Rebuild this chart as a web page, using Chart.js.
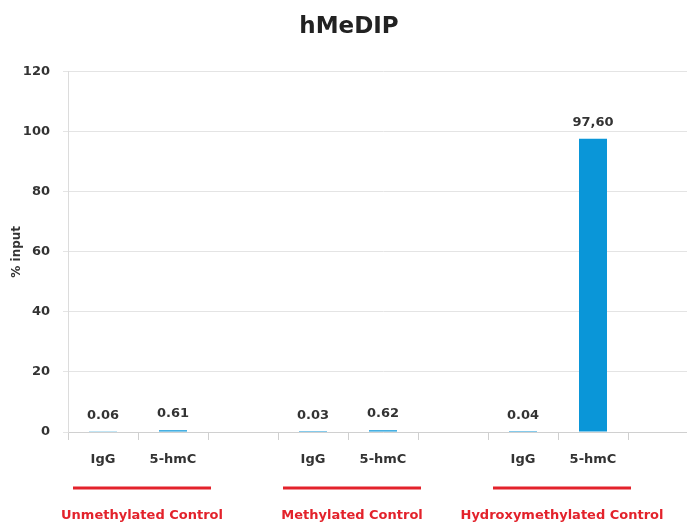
<!DOCTYPE html>
<html>
<head>
<meta charset="utf-8">
<script src="https://cdn.jsdelivr.net/npm/chart.js@4.4.0/dist/chart.umd.min.js"></script>
<style>
  html, body { margin: 0; padding: 0; background: #fff; overflow: hidden; }
  #wrap { width: 700px; height: 523px; position: relative; }
</style>
</head>
<body>
<div id="wrap"><canvas id="hmedip-chart"></canvas></div>
<script>
  // Samples per category slot (empty slots keep the groups apart)
  const categories = ['IgG', '5-hmC', '', 'IgG', '5-hmC', '', 'IgG', '5-hmC', ''];
  const percentInput = [0.06, 0.61, null, 0.03, 0.62, null, 0.04, 97.60, null];
  const decimalMarks = ['.', '.', '.', '.', '.', '.', '.', ',', '.'];
  const groupNames = ['Unmethylated Control', 'Methylated Control', 'Hydroxymethylated Control'];
  const groupStart = [0, 3, 6];
  const yTicks = [0, 20, 40, 60, 80, 100, 120];

  const FONT = "'DejaVu Sans', sans-serif";
  const TEXT = '#333333';
  const RED = '#e3222b';

  // value text above each bar
  const valueLabels = {
    id: 'valueLabels',
    afterDatasetsDraw(chart) {
      const ctx = chart.ctx;
      const meta = chart.getDatasetMeta(0);
      ctx.save();
      ctx.font = 'bold 13px ' + FONT;
      ctx.fillStyle = TEXT;
      ctx.textAlign = 'center';
      ctx.textBaseline = 'bottom';
      meta.data.forEach((bar, i) => {
        const v = percentInput[i];
        if (v == null) return;
        const txt = v.toFixed(2).replace('.', decimalMarks[i]);
        ctx.fillText(txt, bar.x, bar.y - 10);
      });
      ctx.restore();
    }
  };

  // red underline + name under each sample group
  const groupLabels = {
    id: 'groupLabels',
    afterDraw(chart) {
      const ctx = chart.ctx;
      const x = chart.scales.x;
      ctx.save();
      groupNames.forEach((name, g) => {
        const s = groupStart[g];
        const step = x.getPixelForValue(s + 1) - x.getPixelForValue(s);
        const left = x.getPixelForValue(s) - step / 2;
        const right = x.getPixelForValue(s + 1) + step / 2;
        ctx.strokeStyle = RED;
        ctx.lineWidth = 3;
        ctx.beginPath();
        ctx.moveTo(left + 5, 488);
        ctx.lineTo(right + 3, 488);
        ctx.stroke();
        ctx.fillStyle = RED;
        ctx.font = 'bold 13px ' + FONT;
        ctx.textAlign = 'center';
        ctx.textBaseline = 'middle';
        ctx.fillText(name, (left + right) / 2 + 4, 516);
      });
      ctx.restore();
    }
  };

  new Chart(document.getElementById('hmedip-chart'), {
    type: 'bar',
    data: {
      labels: categories,
      datasets: [{
        data: percentInput,
        backgroundColor: '#0a96d8',
        borderWidth: 0,
        barPercentage: 0.4,
        categoryPercentage: 1.0
      }]
    },
    options: {
      responsive: true,
      maintainAspectRatio: false,
      animation: false,
      layout: { padding: { left: 0, right: 2, top: 0, bottom: 0 } },
      plugins: {
        legend: { display: false },
        tooltip: { enabled: false },
        title: {
          display: true,
          text: 'hMeDIP',
          color: '#222',
          font: { family: FONT, size: 23, weight: 'bold' },
          padding: { top: 13, bottom: 31 }
        }
      },
      scales: {
        x: {
          afterFit(scale) { scale.height = 91; },
          border: { color: '#d0d0d0', width: 1 },
          grid: { display: true, drawOnChartArea: false, drawTicks: true, tickLength: 8, color: '#d0d0d0', offset: true },
          ticks: { color: TEXT, padding: 12, font: { family: FONT, size: 13, weight: 'bold' }, maxRotation: 0, autoSkip: false }
        },
        y: {
          min: 0,
          max: 120,
          afterFit(scale) { scale.width = 68; },
          afterBuildTicks(scale) { scale.ticks = yTicks.map(v => ({ value: v })); },
          border: { color: '#dcdcdc', width: 1 },
          grid: { color: '#e4e4e4', tickLength: 5 },
          ticks: { color: TEXT, padding: 13, font: { family: FONT, size: 13, weight: 'bold' } },
          title: {
            display: true,
            text: '% input',
            color: TEXT,
            font: { family: FONT, size: 12, weight: 'bold' },
            padding: { top: 10, bottom: 0 }
          }
        }
      }
    },
    plugins: [valueLabels, groupLabels]
  });
</script>
</body>
</html>
